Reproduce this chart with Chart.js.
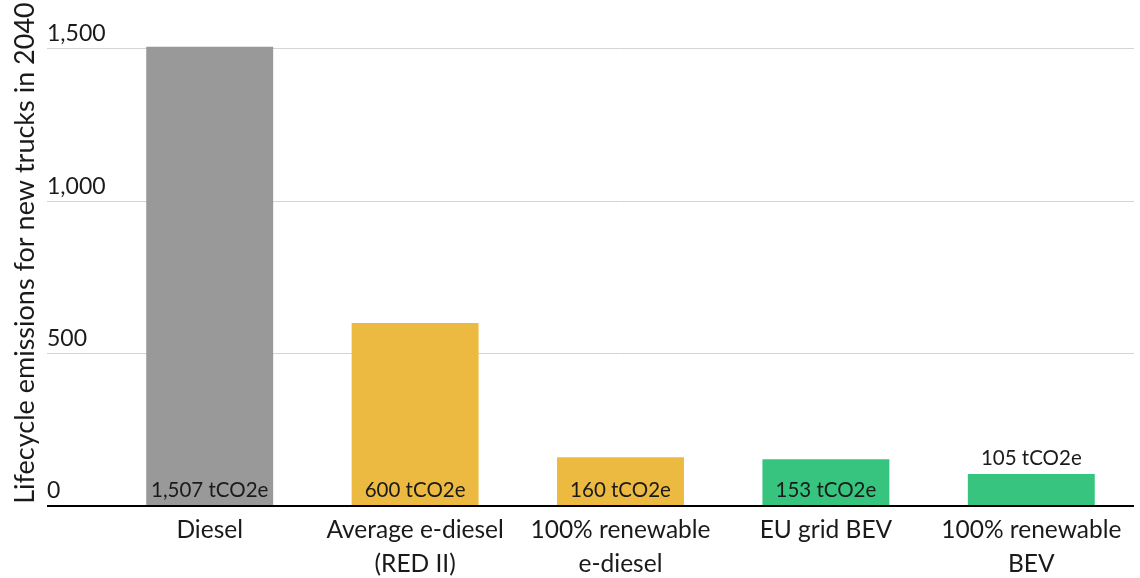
<!DOCTYPE html>
<html>
<head>
<meta charset="utf-8">
<script src="https://cdn.jsdelivr.net/npm/chart.js@4"></script>
<style>
  html, body { margin: 0; padding: 0; background: #fff; }
  #wrap { width: 1140px; height: 578px; }
</style>
</head>
<body>
<div id="wrap"><canvas id="emissionsChart" width="1140" height="578"></canvas></div>
<script>
// ── data ──
const categories = [
    ['Diesel'],
    ['Average e-diesel', '(RED II)'],
    ['100% renewable', 'e-diesel'],
    ['EU grid BEV'],
    ['100% renewable', 'BEV']
];
const values     = [1507, 600, 160, 153, 105];
const barColors  = ['#999999', '#ecba40', '#ecba40', '#36c47e', '#36c47e'];
const yTicks     = [0, 500, 1000, 1500];
const unit       = 'tCO2e';
const yTitle     = 'Lifecycle emissions for new trucks in 2040';

const fontFamily = 'Lato, "Source Sans Pro", sans-serif';
const textColor  = '#1a1a1a';

// value labels sitting at the foot of each bar (or above it when the bar is too short)
const barValueLabels = {
    id: 'barValueLabels',
    afterDatasetsDraw(chart) {
        const ctx  = chart.ctx;
        const meta = chart.getDatasetMeta(0);
        ctx.save();
        ctx.font = '20.5px ' + fontFamily;
        ctx.fillStyle = textColor;
        ctx.textAlign = 'center';
        ctx.textBaseline = 'bottom';
        meta.data.forEach((bar, i) => {
            const txt = values[i].toLocaleString('en-US') + ' ' + unit;
            const h = bar.base - bar.y;
            const y = h > 40 ? bar.base - 4 : bar.y - 5;
            ctx.fillText(txt, bar.x, y);
        });
        ctx.restore();
    }
};

new Chart(document.getElementById('emissionsChart'), {
    type: 'bar',
    data: {
        labels: categories,
        datasets: [{
            data: values,
            backgroundColor: barColors,
            borderWidth: 0,
            barPercentage: 0.618,
            categoryPercentage: 1.0,
        }]
    },
    options: {
        responsive: false,
        animation: false,
        layout: { padding: { left: 9, right: 6, top: 0, bottom: 0 } },
        plugins: {
            legend: { display: false },
            tooltip: { enabled: false }
        },
        scales: {
            x: {
                afterFit: scale => { scale.height = 72; },
                grid: { display: false, drawTicks: false },
                border: { display: false },
                ticks: {
                    color: textColor,
                    padding: 8,
                    maxRotation: 0,
                    autoSkip: false,
                    font: { family: fontFamily, size: 24.5, lineHeight: 1.35 }
                }
            },
            y: {
                min: 0,
                max: 1660,
                afterFit: scale => { scale.width = 98; },
                afterBuildTicks: scale => { scale.ticks = yTicks.map(v => ({ value: v })); },
                grid: {
                    drawTicks: true,
                    tickLength: 60,
                    color: c => c.tick && c.tick.value === 0 ? '#000000' : '#d4d4d4',
                    lineWidth: c => c.tick && c.tick.value === 0 ? 2 : 1
                },
                border: { display: false },
                ticks: {
                    mirror: true,
                    padding: -60,
                    labelOffset: -15,
                    crossAlign: 'near',
                    color: textColor,
                    font: { family: fontFamily, size: 23 },
                    callback: v => v.toLocaleString('en-US')
                },
                title: {
                    display: true,
                    text: yTitle,
                    color: textColor,
                    padding: { top: 0, bottom: 10 },
                    font: { family: fontFamily, size: 27 }
                }
            }
        }
    },
    plugins: [barValueLabels]
});
</script>
</body>
</html>
